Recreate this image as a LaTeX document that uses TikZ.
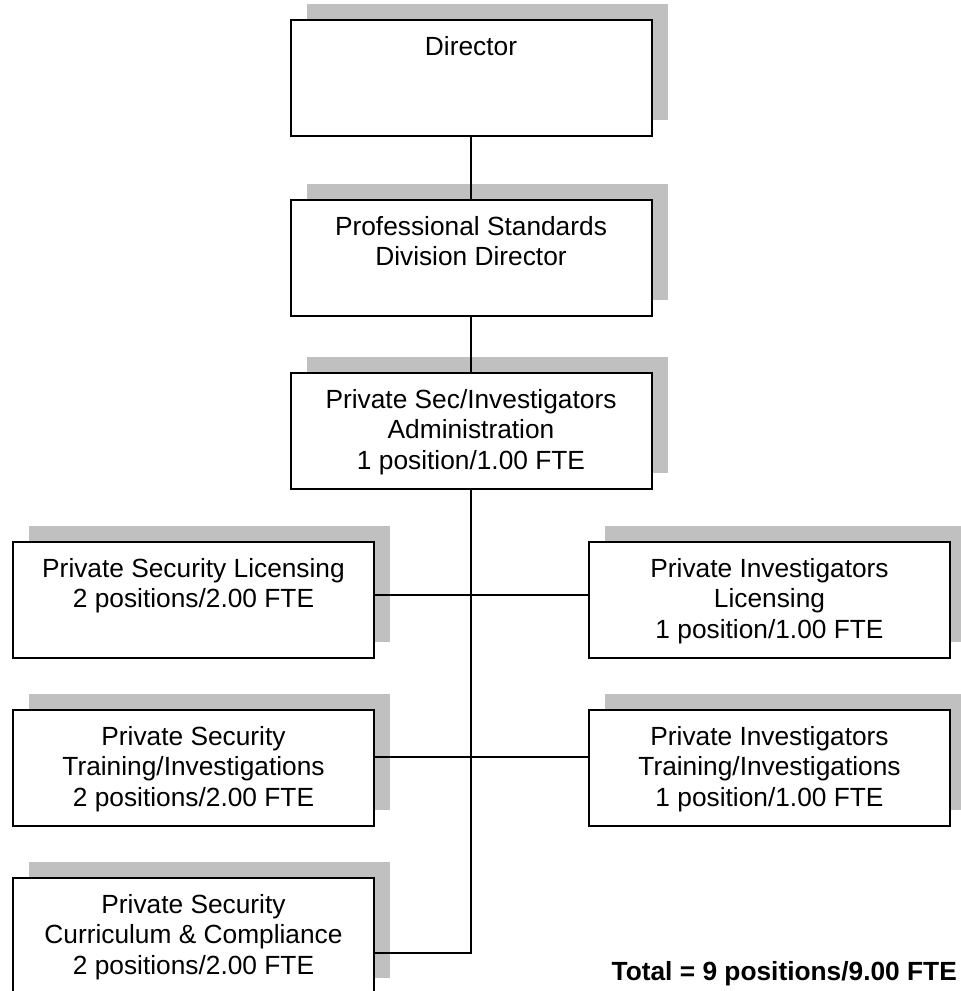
\documentclass[tikz,border=0pt]{standalone}
\usepackage{fontspec}
\setmainfont{Liberation Sans}
\usetikzlibrary{shadows,calc}
\definecolor{shadowgray}{RGB}{192,192,192}
\begin{document}
\begin{tikzpicture}[x=1pt,y=-1pt,
  orgbox/.style={draw=black, fill=white, line width=2pt,
    minimum width=361pt, minimum height=116pt, inner sep=0pt,
    anchor=north west,
    drop shadow={shadow xshift=16pt, shadow yshift=16pt,
      fill=shadowgray, opacity=1}},
  boxtext/.style={anchor=north, align=center, inner sep=0pt,
    font=\fontsize{26.3}{30.5}\selectfont},
  link/.style={line width=2pt, draw=black}]
  \clip (0,0) rectangle (961,991);

  % boxes of the chart
  \node[orgbox] (dir) at (289.5,19)  {};
  \node[orgbox] (psd) at (289.5,199) {};
  \node[orgbox] (adm) at (289.5,372) {};
  \node[orgbox] (psl) at (12,541)  {};
  \node[orgbox] (pil) at (588,541) {};
  \node[orgbox] (pst) at (12,709)  {};
  \node[orgbox] (pit) at (588,709) {};
  \node[orgbox] (psc) at (12,877)  {};

  % titles, set at the top of each box
  \node[boxtext] (dirT) at ($(dir.north)+(0,17)$) {Director};
  \node[boxtext] (psdT) at ($(psd.north)+(0,17)$) {Professional Standards\\Division Director};
  \node[boxtext] (admT) at ($(adm.north)+(0,17)$) {Private Sec/Investigators\\Administration\\1 position/1.00 FTE};
  \node[boxtext] (pslT) at ($(psl.north)+(0,17)$) {Private Security Licensing\\2 positions/2.00 FTE};
  \node[boxtext] (pilT) at ($(pil.north)+(0,17)$) {Private Investigators\\Licensing\\1 position/1.00 FTE};
  \node[boxtext] (pstT) at ($(pst.north)+(0,17)$) {Private Security\\Training/Investigations\\2 positions/2.00 FTE};
  \node[boxtext] (pitT) at ($(pit.north)+(0,17)$) {Private Investigators\\Training/Investigations\\1 position/1.00 FTE};
  \node[boxtext] (pscT) at ($(psc.north)+(0,17)$) {Private Security\\Curriculum \& Compliance\\2 positions/2.00 FTE};

  \node[anchor=base east, inner sep=0pt,
    font=\fontsize{26.3}{30.5}\selectfont\bfseries] (total) at (957,980)
    {Total = 9 positions/9.00 FTE};

  % connection points on the side boxes
  \coordinate (pslTap) at ($(psl.north east)+(0,54)$);
  \coordinate (pilTap) at ($(pil.north west)+(0,54)$);
  \coordinate (pstTap) at ($(pst.north east)+(0,48)$);
  \coordinate (pitTap) at ($(pit.north west)+(0,48)$);
  \coordinate (pscTap) at ($(psc.north east)+(0,76)$);

  % reporting lines
  \draw[link] (dir.south) -- (psd.north);
  \draw[link] (psd.south) -- (adm.north);
  \draw[link] (adm.south) |- (pscTap);
  \draw[link] (pslTap) -- (pilTap);
  \draw[link] (pstTap) -- (pitTap);
\end{tikzpicture}
\end{document}
